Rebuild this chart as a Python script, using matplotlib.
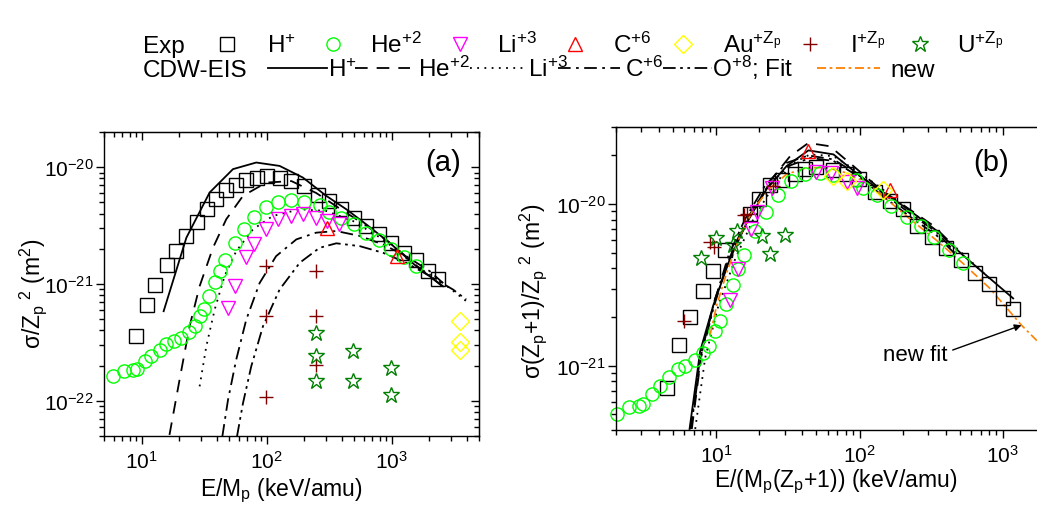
import numpy as np
import matplotlib
matplotlib.use('Agg')
import matplotlib.pyplot as plt
from matplotlib.lines import Line2D
from matplotlib.ticker import LogLocator, NullFormatter

plt.rcParams['font.family'] = ['Liberation Sans', 'DejaVu Sans']
plt.rcParams['mathtext.default'] = 'regular'
plt.rcParams['axes.unicode_minus'] = False

# ---------------- panel (a): sigma/Zp^2 vs E/Mp ----------------
# sigma in units of 1e-21 m^2, E in keV/amu
a_H_E = [8.95, 11.0, 12.9, 16.0, 18.9, 22.8, 27.7, 33.5, 39.6, 47.0, 57.2, 68.7, 83.7, 100,
         128, 157, 198, 258, 315, 396, 497, 627, 792, 982, 1247, 1575, 1953, 2350]
a_H_s = [0.356, 0.667, 0.977, 1.44, 1.91, 2.58, 3.40, 4.36, 5.31, 6.38, 7.0, 7.73, 8.15, 8.43,
         8.0, 7.54, 6.92, 5.79, 5.14, 4.42, 3.70, 3.13, 2.66, 2.26, 1.85, 1.59, 1.29, 1.11]
a_He_E = [5.9, 7.18, 8.53, 9.23, 10.6, 11.9, 13.9, 15.7, 18.0, 20.8, 23.9, 26.6, 29.1, 31.5,
          34.6, 38.4, 42.6, 46.1, 55.5, 65.5, 78.8, 98.2, 123, 156, 199, 269, 315, 396, 497,
          627, 792, 994, 1247, 1556]
a_He_s = [0.162, 0.179, 0.185, 0.188, 0.218, 0.243, 0.274, 0.309, 0.323, 0.345, 0.386, 0.441,
          0.530, 0.612, 0.797, 1.04, 1.29, 1.59, 2.26, 2.98, 3.78, 4.60, 5.04, 5.24, 5.04, 4.72,
          4.14, 3.70, 3.24, 2.75, 2.38, 1.98, 1.71, 1.42]
a_Li_E = [49.1, 56.1, 68.7, 78.8, 98.2, 123, 156, 195, 247, 306, 379]
a_Li_s = [0.624, 0.970, 1.71, 2.21, 2.98, 3.58, 3.82, 3.95, 3.70, 3.46, 3.24]
a_C_E = [306, 1103]
a_C_s = [3.03, 1.73]
a_Au_E = [3500, 3500, 3500]
a_Au_s = [0.480, 0.317, 0.274]
a_I_E = [98, 98, 98, 247, 247, 247]
a_I_s = [1.42, 0.530, 0.107, 1.29, 0.530, 0.204]
a_U_E = [247, 247, 247, 491, 491, 982, 982]
a_U_s = [0.381, 0.240, 0.147, 0.265, 0.147, 0.191, 0.112]

# CDW-EIS curves (a)
a_cH_E = [15.0, 22.8, 35.0, 53.8, 82.6, 127, 195, 300, 434, 627, 964, 1574, 2576]
a_cH_s = [0.585, 2.49, 6.07, 9.62, 10.96, 10.25, 8.15, 5.68, 4.36, 3.24, 2.25, 1.42, 0.957]
a_cHe_E = [16.7, 20.1, 24.2, 29.1, 37.2, 47.5, 64.7, 99.3, 158, 250, 400, 630, 1000, 1600, 2500]
a_cHe_s = [0.0511, 0.151, 0.435, 0.957, 2.04, 3.58, 5.68, 7.38, 7.6, 6.0, 4.3, 3.15, 2.2, 1.42, 0.97]
a_cLi_E = [29.1, 32.9, 38.4, 46.1, 57.1, 77.8, 112, 184, 300, 491, 853, 1574, 2576, 3954]
a_cLi_s = [0.133, 0.292, 0.604, 1.17, 1.91, 2.94, 3.82, 4.36, 4.22, 3.46, 2.41, 1.42, 1.02, 0.713]
a_cC_E = [44.2, 49.1, 57.1, 68.7, 87.9, 119, 173, 249, 361, 555, 853, 1309, 2014, 2576]
a_cC_s = [0.0494, 0.102, 0.225, 0.495, 1.02, 1.73, 2.41, 2.75, 2.84, 2.58, 2.18, 1.73, 1.29, 1.02]
a_cO_E = [57.9, 64.7, 75.3, 93.5, 127, 184, 265, 361, 555, 853, 1309, 2014, 3097, 3954]
a_cO_s = [0.0494, 0.0955, 0.197, 0.435, 0.897, 1.52, 2.04, 2.23, 2.11, 1.85, 1.52, 1.17, 0.897, 0.736]

# ---------------- panel (b): sigma(Zp+1)/Zp^2 vs E/(Mp(Zp+1)) ----------------
b_H_E = [4.53, 5.52, 6.52, 8.04, 9.48, 11.6, 17.1, 20.0, 23.8, 29.0, 35.2, 41.7, 49.8, 65.0,
         80.5, 99.1, 128, 163, 202, 250, 318, 401, 507, 638, 798, 995, 1180]
b_H_s = [0.726, 1.35, 1.99, 2.91, 3.85, 5.18, 8.69, 10.7, 13.1, 14.0, 15.3, 16.6, 17.0, 16.3,
         15.3, 14.2, 11.8, 10.5, 9.31, 7.36, 6.25, 5.37, 4.49, 3.72, 3.20, 2.61, 2.25]
b_He_E = [2.03, 2.45, 2.88, 3.08, 3.56, 4.07, 4.70, 5.38, 6.08, 7.06, 8.04, 8.97, 9.84, 10.7,
          11.7, 13.0, 14.2, 15.7, 18.7, 22.3, 26.9, 33.1, 41.7, 53.1, 65.8, 94.6, 106, 132,
          167, 213, 267, 332, 423, 528]
b_He_s = [0.502, 0.552, 0.566, 0.579, 0.667, 0.750, 0.853, 0.951, 0.995, 1.08, 1.19, 1.33,
          1.65, 1.90, 2.40, 3.15, 3.95, 4.82, 6.85, 8.89, 11.4, 13.9, 15.3, 15.6, 15.1, 14.0,
          12.5, 11.4, 9.77, 8.28, 7.29, 6.25, 5.18, 4.35]
b_Li_E = [12.5, 14.2, 17.5, 19.2, 24.4, 49.8, 63.2, 81.3, 95.5]
b_Li_s = [2.55, 3.99, 7.03, 8.89, 12.5, 15.8, 15.5, 13.7, 12.6]
b_C_E = [44.0, 163]
b_C_s = [21.2, 12.2]
b_Au_E = [65.8, 81.3, 145]
b_Au_s = [14.9, 13.9, 12.2]
b_I_E = [5.92, 9.08, 9.68, 15.7, 16.4, 24.8]
b_I_s = [1.88, 5.82, 5.42, 8.57, 8.69, 13.0]
b_U_E = [7.82, 10.0, 13.1, 13.9, 20.8, 23.6, 30.3]
b_U_s = [4.65, 6.15, 5.61, 6.85, 6.34, 4.89, 6.46]

b_cH_E = [6.52, 7.73, 9.57, 12.5, 16.4, 22.5, 31.0, 44.0, 65.8, 101, 147, 225, 345, 528, 811, 1180]
b_cH_s = [0.406, 1.23, 2.38, 4.60, 7.73, 12.4, 17.2, 21.5, 20.3, 14.9, 11.8, 9.10, 6.85, 4.82, 3.47, 2.61]
b_cHe_E = [6.76, 7.94, 9.84, 12.9, 17.3, 23.8, 32.8, 44.0, 62.2, 90.6, 139, 213, 327, 451]
b_cHe_s = [0.406, 1.23, 2.61, 5.06, 8.47, 13.9, 19.8, 23.9, 22.8, 17.2, 12.4, 9.55, 7.36, 5.55]
b_cLi_E = [7.14, 8.38, 10.4, 13.6, 18.2, 25.1, 34.6, 45.2, 65.8, 101, 155, 250, 428, 857]
b_cLi_s = [0.406, 1.12, 2.38, 4.60, 8.09, 13.0, 18.0, 20.3, 19.8, 15.6, 11.8, 8.47, 5.82, 3.30]
b_cC_E = [6.59, 7.73, 9.57, 12.2, 15.9, 21.9, 31.0, 44.0, 65.8, 101, 155, 237, 345, 489]
b_cC_s = [0.406, 1.12, 2.38, 4.82, 8.09, 13.0, 18.0, 20.0, 18.9, 14.9, 11.2, 8.47, 6.70, 4.82]
b_cO_E = [6.65, 7.82, 9.57, 12.2, 16.4, 22.5, 31.9, 45.2, 65.8, 101, 155, 237, 345, 475]
b_cO_s = [0.406, 1.12, 2.27, 4.60, 8.09, 12.6, 17.2, 19.3, 18.5, 14.6, 10.7, 8.09, 6.40, 4.82]
fit_E = [9.08, 10.1, 11.9, 14.7, 18.2, 23.8, 31.0, 42.9, 59.0, 81.3, 112, 155, 225, 345, 528,
         811, 1349, 1726]
fit_s = [1.56, 2.38, 3.81, 6.40, 9.31, 12.6, 15.3, 16.8, 16.8, 15.6, 13.6, 10.7, 8.09, 5.96,
         4.29, 3.01, 1.78, 1.43]

unit = 1e-21

# styles
c_He = '#00ff00'
c_Li = '#ff00ff'
c_C = '#ff0000'
c_Au = '#ffff00'
c_I = '#800000'
c_U = '#008000'
c_fit = '#ff8000'
ms = 9.5
mew = 1.0
msize = {'D': 9, '+': 10.5, '*': 12}
exp_style = [
    ('s', 'black', 'H$^{+}$'),
    ('o', c_He, 'He$^{+2}$'),
    ('v', c_Li, 'Li$^{+3}$'),
    ('^', c_C, 'C$^{+6}$'),
    ('D', c_Au, 'Au$^{+Z_p}$'),
    ('+', c_I, 'I$^{+Z_p}$'),
    ('*', c_U, 'U$^{+Z_p}$'),
]
ls_H = '-'
ls_He = (0, (7, 5))
ls_Li = (0, (1, 3))
ls_C = (0, (7, 3, 1.5, 3))
ls_O = (0, (7, 2.5, 1.5, 2.5, 1.5, 2.5))
ls_fit = (0, (5, 2, 1.5, 2))


def marks(ax, E, s, m, col):
    ax.plot(E, np.array(s) * unit, ls='none', marker=m, ms=msize.get(m, ms), mfc='none',
            mec=col, mew=mew, clip_on=False)


def curves(ax, data):
    for E, s, ls in data:
        ax.plot(E, np.array(s) * unit, color='black', lw=1.3, ls=ls)


def style_axes(ax, xlim, ylim):
    ax.set_xscale('log')
    ax.set_yscale('log')
    ax.set_xlim(*xlim)
    ax.set_ylim(*ylim)
    ax.tick_params(which='both', direction='out', labelsize=15, width=1)
    ax.tick_params(which='major', length=6)
    ax.tick_params(which='minor', length=3.5)
    ax.tick_params(axis='x', pad=4)
    ax.tick_params(axis='y', pad=1.5)
    ax.xaxis.set_major_locator(LogLocator(base=10))
    ax.xaxis.set_minor_locator(LogLocator(base=10, subs=np.arange(2, 10)))
    ax.yaxis.set_minor_locator(LogLocator(base=10, subs=np.arange(2, 10)))
    ax.xaxis.set_minor_formatter(NullFormatter())
    ax.yaxis.set_minor_formatter(NullFormatter())
    for sp in ax.spines.values():
        sp.set_linewidth(1.0)
    top = ax.secondary_xaxis('top')
    right = ax.secondary_yaxis('right')
    top.tick_params(which='both', direction='in', width=1, labeltop=False)
    right.tick_params(which='both', direction='in', width=1, labelright=False)
    for sec, axis in ((top, top.xaxis), (right, right.yaxis)):
        sec.tick_params(which='major', length=6)
        sec.tick_params(which='minor', length=3.5)
        axis.set_minor_locator(LogLocator(base=10, subs=np.arange(2, 10)))


fig = plt.figure(figsize=(10.37, 5.06), dpi=100)
axa = fig.add_axes([104 / 1037, 69 / 506, 375 / 1037, 304 / 506])
axb = fig.add_axes([616 / 1037, 75 / 506, 430 / 1037, 303 / 506])

# panel (a)
style_axes(axa, (5, 5000), (5e-23, 2e-20))
curves(axa, [(a_cH_E, a_cH_s, ls_H), (a_cHe_E, a_cHe_s, ls_He), (a_cLi_E, a_cLi_s, ls_Li),
             (a_cC_E, a_cC_s, ls_C), (a_cO_E, a_cO_s, ls_O)])
marks(axa, a_H_E, a_H_s, 's', 'black')
marks(axa, a_He_E, a_He_s, 'o', c_He)
marks(axa, a_Li_E, a_Li_s, 'v', c_Li)
marks(axa, a_C_E, a_C_s, '^', c_C)
marks(axa, a_Au_E, a_Au_s, 'D', c_Au)
marks(axa, a_I_E, a_I_s, '+', c_I)
marks(axa, a_U_E, a_U_s, '*', c_U)
axa.set_xlabel('E/M$_p$ (keV/amu)', fontsize=16.5)
axa.set_ylabel('σ/Z$_p$$^{\\ 2}$ (m$^2$)', fontsize=16.5)
axa.xaxis.set_label_coords(0.472, -0.13)
axa.yaxis.set_label_coords(-0.148, 0.47)
axa.text(0.905, 0.9, '(a)', transform=axa.transAxes, fontsize=21, ha='center', va='center')

# panel (b)
style_axes(axb, (2, 2000), (4e-22, 3e-20))
curves(axb, [(b_cH_E, b_cH_s, ls_H), (b_cHe_E, b_cHe_s, ls_He), (b_cLi_E, b_cLi_s, ls_Li),
             (b_cC_E, b_cC_s, ls_C), (b_cO_E, b_cO_s, ls_O)])
axb.plot(fit_E, np.array(fit_s) * unit, color=c_fit, lw=1.2, ls=ls_fit)
marks(axb, b_H_E, b_H_s, 's', 'black')
marks(axb, b_He_E, b_He_s, 'o', c_He)
marks(axb, b_Li_E, b_Li_s, 'v', c_Li)
marks(axb, b_C_E, b_C_s, '^', c_C)
marks(axb, b_Au_E, b_Au_s, 'D', c_Au)
marks(axb, b_I_E, b_I_s, '+', c_I)
marks(axb, b_U_E, b_U_s, '*', c_U)
axb.set_xlabel('E/(M$_p$(Z$_p$+1)) (keV/amu)', fontsize=16.5)
axb.set_ylabel('σ(Z$_p$+1)/Z$_p$$^{\\ 2}$ (m$^2$)', fontsize=16.5)
axb.xaxis.set_label_coords(0.51, -0.12)
axb.yaxis.set_label_coords(-0.155, 0.46)
axb.text(0.873, 0.885, '(b)', transform=axb.transAxes, fontsize=21, ha='center', va='center')
axb.annotate('new fit', xy=(1349, 1.78e-21), xytext=(244, 1.18e-21), fontsize=16,
             ha='center', va='center',
             arrowprops=dict(arrowstyle='-|>', color='black', lw=1, mutation_scale=10,
                             shrinkA=2, shrinkB=0, relpos=(1.0, 0.6)))


# ---------------- legend rows (figure coordinates in pixels) ----------------
def fx(x):
    return x / 1037


def fy(y):
    return 1 - y / 506


fs_leg = 17.5
row1, row1_base = 45, 53
fig.text(fx(143), fy(row1_base), 'Exp', fontsize=fs_leg, va='baseline')
leg1 = [(227, 267), (333, 370), (460, 497), (575, 613), (683, 723), (810, 850), (920, 957)]
for (mx, tx), (m, col, lab) in zip(leg1, exp_style):
    fig.add_artist(Line2D([fx(mx)], [fy(row1)], marker=m, ms=msize.get(m, ms), mfc='none',
                          mec=col, mew=mew, ls='none'))
    fig.text(fx(tx), fy(row1_base), lab, fontsize=fs_leg, va='baseline')

row2, row2_base = 69, 77
fig.text(fx(143), fy(row2_base), 'CDW-EIS', fontsize=fs_leg, va='baseline')
leg2 = [((268, 327), ls_H, 'black', (328, 'H$^{+}$')),
        ((355, 410), ls_He, 'black', (418, 'He$^{+2}$')),
        ((470, 525), ls_Li, 'black', (528, 'Li$^{+3}$')),
        ((558, 620), ls_C, 'black', (625, 'C$^{+6}$')),
        ((663, 712), ls_O, 'black', (712, 'O$^{+8}$; Fit')),
        ((817, 880), ls_fit, c_fit, (890, 'new'))]
for (x0, x1), ls, col, (tx, lab) in leg2:
    fig.add_artist(Line2D([fx(x0), fx(x1)], [fy(row2), fy(row2)], color=col, lw=1.3, ls=ls))
    fig.text(fx(tx), fy(row2_base), lab, fontsize=fs_leg, va='baseline')

fig.savefig('out.png', dpi=100)
